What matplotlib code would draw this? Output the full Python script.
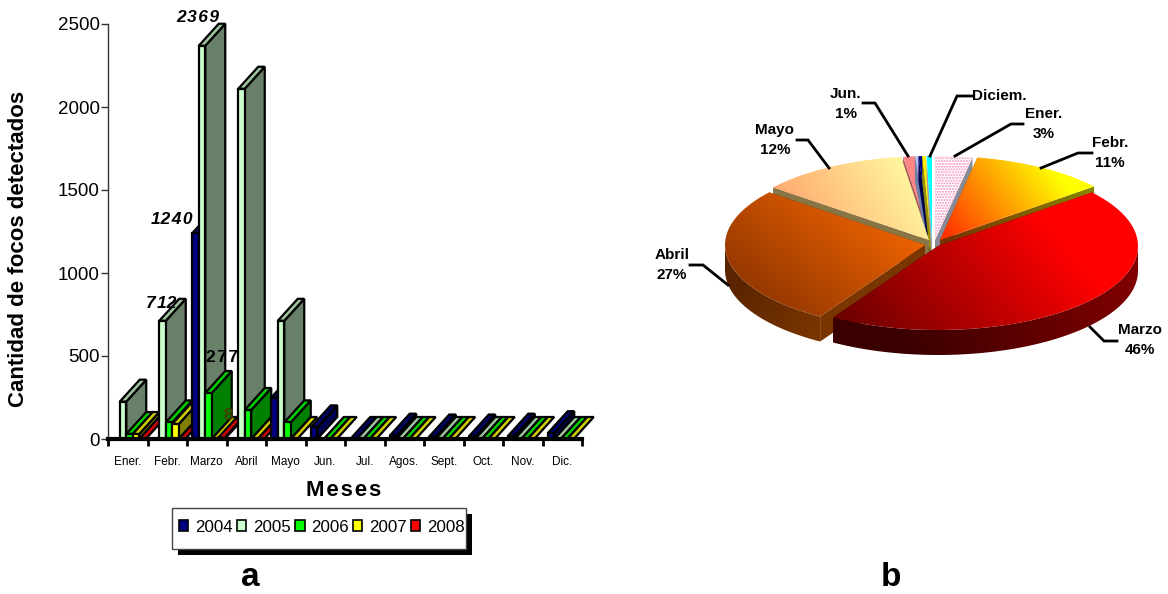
"""Two panels: monthly fire counts as fake-3D bars (a) and monthly share as exploded 3D pie (b)."""

import matplotlib
matplotlib.use("Agg")
import matplotlib.pyplot as plt
import numpy as np
from matplotlib.colors import to_rgb
from matplotlib.patches import Patch, Polygon, Rectangle

plt.rcParams["font.family"] = ["Liberation Sans", "DejaVu Sans"]

W, H = 1168, 594
nan = float("nan")

MONTHS = ["Ener.", "Febr.", "Marzo", "Abril", "Mayo", "Jun.", "Jul.", "Agos.",
          "Sept.", "Oct.", "Nov.", "Dic."]
YEARS = ["2004", "2005", "2006", "2007", "2008"]
Y2004 = [nan, nan, 1240, nan, 250, 70, 0, 20, 15, 15, 20, 35]
Y2005 = [225, 712, 2369, 2110, 712, nan, 0, 0, 0, 0, 0, 0]
Y2006 = [30, 100, 277, 175, 100, 0, 0, 0, 0, 0, 0, 0]
Y2007 = [30, 90, 0, 0, 0, 0, 0, 0, 0, 0, 0, 0]
Y2008 = [0, 0, 8, 0, nan, nan, nan, nan, nan, nan, nan, nan]
SERIES = [Y2004, Y2005, Y2006, Y2007, Y2008]

PIE_NAMES = ["Ener", "Febr", "Marzo", "Abril", "Mayo", "Jun", "Jul", "Agos", "Sept", "Diciem"]
PIE_VALUES = [3.0, 11.0, 44.8, 27.0, 12.0, 0.95, 0.28, 0.3, 0.28, 0.42]

# front, top, side
BAR_COLORS = [
    ("#000080", "#000066", "#000050"),
    ("#CCFFCC", "#9FC49F", "#688068"),
    ("#00FF00", "#00CC00", "#008000"),
    ("#FFFF00", "#CCCC00", "#808000"),
    ("#FF0000", "#CC0000", "#800000"),
]

fig = plt.figure(figsize=(W / 100, H / 100), dpi=100, facecolor="white")

# pixel-unit axes: one under the bars for the pie, one above for free labels
ax_px = fig.add_axes([0, 0, 1, 1], zorder=0)
ax_px.axis("off")
ax_top = fig.add_axes([0, 0, 1, 1], zorder=10)
ax_top.axis("off")
ax_top.set_xlim(0, W)
ax_top.set_ylim(H, 0)

x0, x1, y0, y1 = 108, 582, 439, 24
ax = fig.add_axes([x0 / W, 1 - y0 / H, (x1 - x0) / W, (y0 - y1) / H], zorder=5)
ax.patch.set_alpha(0)
ax.set_xlim(0, 12)
ax.set_ylim(0, 2500)

BAR_W = 6.5 / 39.5
BAR_START = 5.25 / 39.5
DX = 20 / 39.5
DY = 22 / 0.166

z = 3
for m in range(len(MONTHS)):
    for s, vals in enumerate(SERIES):
        v = vals[m]
        if np.isnan(v):
            continue
        front, top, side = BAR_COLORS[s]
        l = m + BAR_START + s * BAR_W
        r = l + BAR_W
        kw = dict(edgecolor="black", linewidth=1.6, joinstyle="miter", clip_on=False)
        if v > 0:
            ax.add_patch(Polygon([(r, 0), (r + DX, DY), (r + DX, v + DY), (r, v)],
                                 facecolor=side, zorder=z, **kw))
        ax.add_patch(Polygon([(l, v), (r, v), (r + DX, v + DY), (l + DX, v + DY)],
                             facecolor=top, zorder=z, **kw))
        if v > 0:
            ax.bar(l, v, BAR_W, align="edge", color=front, edgecolor="black",
                   linewidth=1.6, zorder=z, clip_on=False)
        z += 1

for s in ("top", "right"):
    ax.spines[s].set_visible(False)
ax.spines["left"].set_color("#333333")
ax.spines["left"].set_linewidth(1)
ax.spines["bottom"].set_linewidth(3)
ax.spines["bottom"].set_zorder(z + 1)
ax.set_yticks([0, 500, 1000, 1500, 2000, 2500])
ax.tick_params(axis="y", labelsize=13.5, length=5, width=1, color="#333333", pad=1)
ax.set_xticks(range(13))
ax.set_xticklabels([])
ax.tick_params(axis="x", which="major", length=5, width=2, color="black")
ax.set_xticks(np.arange(12) + 0.5, minor=True)
ax.set_xticklabels(MONTHS, minor=True, fontsize=8.5)
ax.tick_params(axis="x", which="minor", length=0, pad=12)

HS = "\u200a"
for txt, x, y, st, col in [(HS.join("2369"), 198, 17, "italic", "black"),
                           ("12" + HS + "4" + HS + "0", 172, 220, "italic", "black"),
                           ("7" + HS + "12", 161, 303, "italic", "black"),
                           (HS.join("277"), 222, 358, "normal", "black"),
                           ("8", 228, 415, "normal", "#404000")]:
    ax_top.text(x, y, txt, ha="center", va="center", fontsize=12.5, fontweight="bold",
                style=st, color=col)

ax_top.text(19, 249, "Cantidad de focos detectados", rotation=90, ha="center", va="center",
            fontsize=16, fontweight="bold")
ax_top.text(344, 491, HS.join("Meses"), ha="center", va="center",
            fontsize=16, fontweight="bold")
ax_top.text(250, 578, "a", ha="center", va="center", fontsize=24, fontweight="bold")
ax_top.text(891, 578, "b", ha="center", va="center", fontsize=24, fontweight="bold")

# legend box with hard black shadow
ax_top.add_patch(Rectangle((178, 514), 294, 41, facecolor="black", edgecolor="none", zorder=1))
ax_top.add_patch(Rectangle((172, 508), 294, 41, facecolor="white", edgecolor="#444444",
                           linewidth=1, zorder=2))
handles = [Patch(facecolor=c[0], edgecolor="black", linewidth=1.2) for c in BAR_COLORS]
leg = fig.legend(handles, YEARS, ncol=5, loc="center", fontsize=12.2, frameon=False,
                 bbox_to_anchor=(322 / W, 1 - 527 / H),
                 handlelength=0.55, handleheight=0.55,
                 handletextpad=0.4, columnspacing=0.25, borderpad=0, borderaxespad=0)
leg.set_zorder(40)

# ---- pie ----
RX, RY, DEPTH = 200, 84, 25
CENTERS = {"Ener": (935, 240), "Febr": (940, 240), "Marzo": (938, 246), "Abril": (925, 245),
           "Mayo": (929, 240), "Jun": (931, 240), "Jul": (931, 240), "Agos": (931, 240),
           "Sept": (931, 240), "Diciem": (932, 240)}
# top colour start/end, gradient ends, wall colours
TOPS = {
    "Febr": ("#FF3300", "#FFFF00", (950, 240), (1050, 165)),
    "Marzo": ("#6E0000", "#FF0000", (860, 340), (1030, 200)),
    "Abril": ("#9A3A00", "#F06400", (790, 310), (880, 200)),
    "Mayo": ("#FFAA70", "#FFF8A0", (790, 215), (900, 150)),
}
WALLS = {
    "Febr": ("#7A3000", "#858000", (950, 250), (1080, 190)),
    "Marzo": ("#3A0000", "#800000", (900, 350), (1130, 270)),
    "Abril": ("#5A2400", "#7A3600", (730, 280), (820, 330)),
    "Mayo": ("#8A7544", "#8A7544", (780, 190), (920, 240)),
}
FLAT = {"Ener": ("white", "#8A8A96"), "Jun": ("#FF8585", "#A85A5A"),
        "Jul": ("#B4C4F0", "#7080A8"), "Agos": ("#000080", "#000050"),
        "Sept": ("#FFEE00", "#999000"), "Diciem": ("#00FFFF", "#A0A0B0")}


def fill_grad(pts, c0, c1, p0, p1, zorder):
    pts = np.asarray(pts)
    patch = Polygon(pts, closed=True, transform=ax_px.transData, facecolor="none", edgecolor="none")
    ax_px.add_patch(patch)
    xa, ya = pts.min(axis=0)
    xb, yb = pts.max(axis=0)
    gx, gy = np.meshgrid(np.linspace(xa, xb, 120), np.linspace(ya, yb, 120))
    d = np.array(p1, float) - np.array(p0, float)
    t = np.clip(((gx - p0[0]) * d[0] + (gy - p0[1]) * d[1]) / (d @ d), 0, 1)[..., None]
    img = np.array(to_rgb(c0)) * (1 - t) + np.array(to_rgb(c1)) * t
    im = ax_px.imshow(img, extent=(xa, xb, yb, ya), aspect="auto", origin="upper",
                      interpolation="bilinear", zorder=zorder)
    im.set_clip_path(patch)


def draw_shape(pts, colors, zorder, hatch=None):
    if hatch:
        ax_px.add_patch(Polygon(pts, facecolor="white", edgecolor="#F490C0", hatch=hatch,
                                linewidth=0, zorder=zorder))
    elif isinstance(colors, tuple):
        fill_grad(pts, *colors, zorder)
    else:
        ax_px.add_patch(Polygon(pts, facecolor=colors, edgecolor="none", zorder=zorder))


def rim(c, a, b, n=60):
    th = np.radians(np.linspace(a, b, n))
    return np.column_stack((c[0] + RX * np.sin(th), c[1] - RY * np.cos(th)))


edges = np.cumsum([0] + PIE_VALUES) / sum(PIE_VALUES) * 360
spans = {n: (edges[i], edges[i + 1]) for i, n in enumerate(PIE_NAMES)}
order = ["Jun", "Jul", "Agos", "Sept", "Diciem", "Ener", "Mayo", "Febr", "Abril", "Marzo"]
down = np.array([0, DEPTH])
z = 2
for name in order:
    a, b = spans[name]
    c = np.array(CENTERS[name], float)
    arc = rim(c, a, b)
    wall_col = WALLS[name] if name in WALLS else FLAT[name][1]
    for p in (arc[0], arc[-1]):
        draw_shape([c, p, p + down, c + down], wall_col, z)
    la, lb = max(a, 90), min(b, 270)
    if lb > la:
        low = rim(c, la, lb)
        draw_shape(np.vstack((low, (low + down)[::-1])), wall_col, z)
    z += 1
    top = np.vstack(([c], arc))
    if name in TOPS:
        draw_shape(top, TOPS[name], z)
    elif name == "Ener":
        draw_shape(top, "white", z, hatch="......")
    else:
        draw_shape(top, FLAT[name][0], z)
    z += 1

LEADERS = [
    [(863, 103), (875, 103), (908, 156)],
    [(972, 96), (957, 96), (930, 156)],
    [(1023, 124), (1011, 124), (955, 156)],
    [(1092, 153), (1078, 153), (1041, 168)],
    [(797, 140), (808, 140), (829, 168)],
    [(690, 265), (703, 265), (728, 285)],
    [(1117, 341), (1104, 341), (1090, 327)],
]
for seg in LEADERS:
    xs, ys = zip(*seg)
    ax_px.plot(xs, ys, color="black", lw=2, zorder=25, solid_joinstyle="miter")

PIE_LABELS = [("Jun.\n1%", 846, 104), ("Diciem.", 999, 96), ("Ener.\n3%", 1044, 124),
              ("Febr.\n11%", 1110, 153), ("Mayo\n12%", 775, 140), ("Abril\n27%", 672, 265),
              ("Marzo\n46%", 1140, 340)]
for txt, x, y in PIE_LABELS:
    ax_px.text(x, y, txt, ha="center", va="center", fontsize=11, fontweight="bold",
               linespacing=1.55, zorder=26)

ax_px.set_xlim(0, W)
ax_px.set_ylim(H, 0)

fig.savefig("out.png", dpi=100, facecolor="white")
